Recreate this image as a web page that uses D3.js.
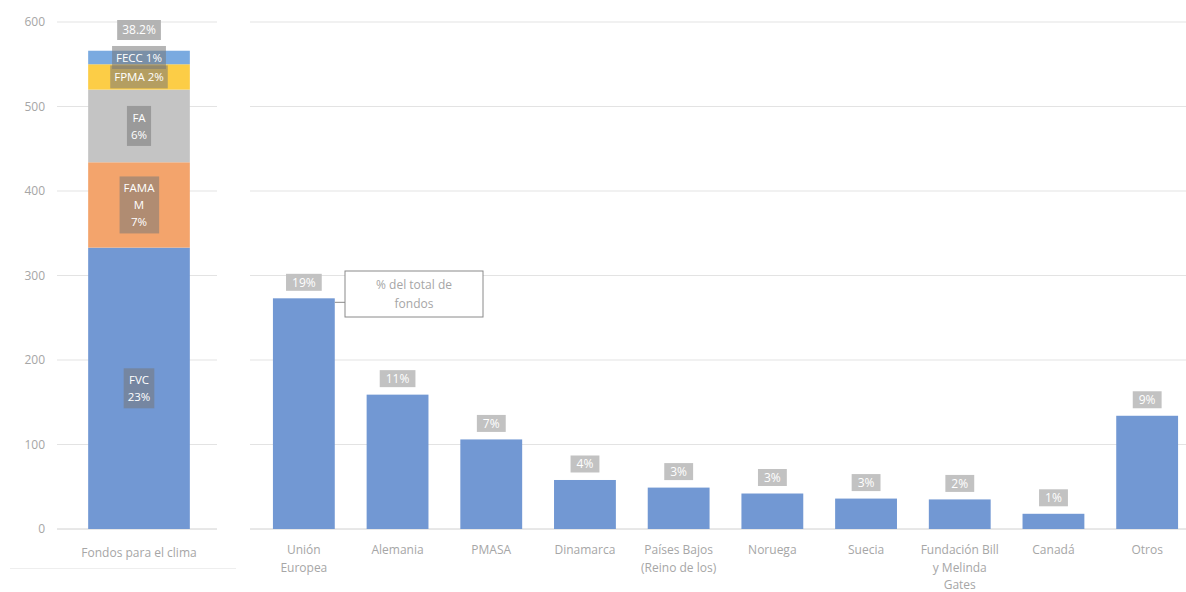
<!DOCTYPE html>
<html><head><meta charset="utf-8">
<script src="https://cdn.jsdelivr.net/npm/d3@7"></script>
<style>body{margin:0;background:#fff;} svg{display:block;font-family:"Open Sans",sans-serif;}</style>
</head><body>
<svg id="c" width="1186" height="592"></svg>
<script>
// ---- data ----
const yTicks = [0, 100, 200, 300, 400, 500, 600];
const stackCategory = "Fondos para el clima";
const stackNames = ["FVC", "FAMM", "FA", "FPMA", "FECC"];
const stackValues = [333, 101, 86, 30, 16];
const stackLabels = [["FVC", "23%"], ["FAMA", "M", "7%"], ["FA", "6%"], ["FPMA 2%"], ["FECC 1%"]];
const stackColors = ["#7298d3", "#f3a46c", "#c4c4c4", "#fccd46", "#7aaae0"];
const stackTotalLabel = "38.2%";
const donors = ["Unión Europea", "Alemania", "PMASA", "Dinamarca", "Países Bajos (Reino de los)", "Noruega", "Suecia", "Fundación Bill y Melinda Gates", "Canadá", "Otros"];
const donorLines = [["Unión", "Europea"], ["Alemania"], ["PMASA"], ["Dinamarca"], ["Países Bajos", "(Reino de los)"], ["Noruega"], ["Suecia"], ["Fundación Bill", "y Melinda", "Gates"], ["Canadá"], ["Otros"]];
const donorValues = [273, 159, 106, 58, 49, 42, 36, 35, 18, 134];
const donorPct = ["19%", "11%", "7%", "4%", "3%", "3%", "3%", "2%", "1%", "9%"];
const calloutText = ["% del total de", "fondos"];

// ---- drawing ----
const svg = d3.select("#c");
const textCol = "#a6a6a6", gridCol = "#e3e3e3";
const y = d3.scaleLinear().domain([0, 600]).range([529, 22]);

// left chart
svg.append("g").selectAll("line").data(yTicks).join("line")
  .attr("x1", 57).attr("x2", 217).attr("y1", d => y(d)).attr("y2", d => y(d))
  .attr("stroke", d => d === 0 ? "#d0d0d0" : gridCol).attr("stroke-width", 1);
svg.append("g").selectAll("text").data(yTicks).join("text")
  .attr("x", 45).attr("y", d => y(d) + 4).attr("text-anchor", "end")
  .attr("font-size", 12).attr("fill", textCol).text(d => d);

const leftX = d3.scaleBand().domain([stackCategory]).range([57, 221]).paddingInner(0.38).paddingOuter(0.19);
const bx = leftX(stackCategory), bw = leftX.bandwidth();
let cum = 0;
const segs = stackValues.map((v, i) => { const s = {i, y0: cum, y1: cum + v}; cum += v; return s; });
svg.append("g").selectAll("rect").data(segs).join("rect")
  .attr("x", bx).attr("width", bw)
  .attr("y", d => y(d.y1)).attr("height", d => y(d.y0) - y(d.y1))
  .attr("fill", d => stackColors[d.i]);

function labelBox(g, cx, cy, lines, fill, fs, lh, padX, padY) {
  const grp = g.append("g");
  const t = grp.append("text").attr("font-size", fs).attr("fill", "#fff").attr("text-anchor", "middle");
  lines.forEach((l, k) => t.append("tspan").attr("x", cx).attr("y", cy - (lines.length - 1) * lh / 2 + k * lh + fs * 0.36).text(l));
  const bb = t.node().getBBox();
  grp.insert("rect", "text").attr("x", bb.x - padX).attr("y", cy - (lines.length * lh) / 2 - padY)
    .attr("width", bb.width + 2 * padX).attr("height", lines.length * lh + 2 * padY).attr("fill", fill);
}
const lg = svg.append("g");
segs.forEach(s => {
  const cy = y((s.y0 + s.y1) / 2);
  labelBox(lg, bx + bw / 2, cy, stackLabels[s.i], "rgba(120,120,120,0.55)", 11.5, 17, 4, 3);
});
labelBox(lg, bx + bw / 2, 30, [stackTotalLabel], "#b3b3b3", 12, 16, 5, 2);
svg.append("text").attr("x", bx + bw / 2).attr("y", 557).attr("text-anchor", "middle")
  .attr("font-size", 12).attr("fill", textCol).text(stackCategory);
svg.append("line").attr("x1", 10).attr("x2", 236).attr("y1", 568.5).attr("y2", 568.5).attr("stroke", "#eeeeee");

// right chart
const xb = d3.scaleBand().domain(donors).range([257, 1194]).paddingInner(0.34).paddingOuter(0.17);
svg.append("g").selectAll("line").data(yTicks).join("line")
  .attr("x1", 250).attr("x2", 1186).attr("y1", d => y(d)).attr("y2", d => y(d))
  .attr("stroke", d => d === 0 ? "#d0d0d0" : gridCol);
svg.append("g").selectAll("rect").data(donors).join("rect")
  .attr("x", d => xb(d)).attr("width", xb.bandwidth())
  .attr("y", (d, i) => y(donorValues[i])).attr("height", (d, i) => y(0) - y(donorValues[i]))
  .attr("fill", "#7298d3");
const rg = svg.append("g");
donors.forEach((d, i) => {
  labelBox(rg, xb(d) + xb.bandwidth() / 2, y(donorValues[i]) - 16, [donorPct[i]], "#c2c2c2", 12, 15, 6, 1);
});
donors.forEach((d, i) => {
  const t = svg.append("text").attr("text-anchor", "middle").attr("font-size", 12).attr("fill", textCol);
  donorLines[i].forEach((l, k) => t.append("tspan").attr("x", xb(d) + xb.bandwidth() / 2).attr("y", 554 + k * 17.5).text(l));
});

// callout
const ue = donors[0];
const cyTop = y(donorValues[0]);
svg.append("line").attr("x1", xb(ue) + xb.bandwidth()).attr("x2", 345)
  .attr("y1", cyTop + 4).attr("y2", cyTop + 4).attr("stroke", "#8a8a8a");
svg.append("rect").attr("x", 345).attr("y", 271).attr("width", 138).attr("height", 46)
  .attr("fill", "#fff").attr("stroke", "#8a8a8a").attr("stroke-width", 1);
const ct = svg.append("text").attr("text-anchor", "middle").attr("font-size", 12).attr("fill", textCol);
calloutText.forEach((l, k) => ct.append("tspan").attr("x", 414).attr("y", 289 + k * 19).text(l));
</script>
</body></html>
